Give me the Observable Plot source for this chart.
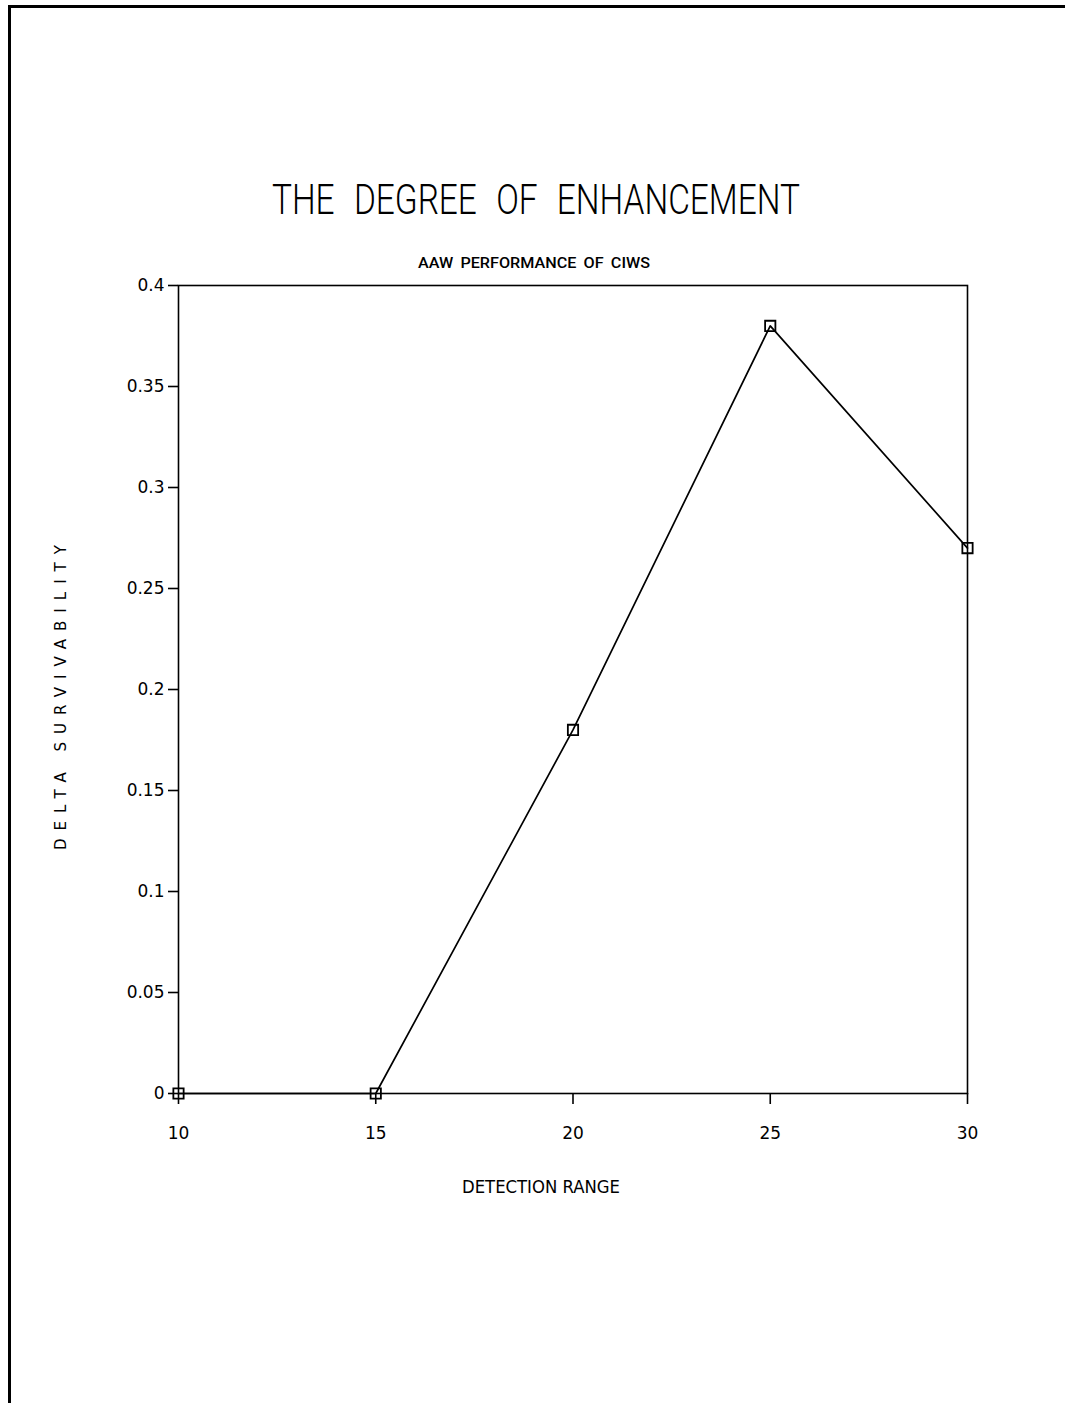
<!DOCTYPE html>
<html>
<head>
<meta charset="utf-8">
<script src="https://cdn.jsdelivr.net/npm/d3@7"></script>
<script src="https://cdn.jsdelivr.net/npm/@observablehq/plot@0.6"></script>
<style>
  html, body { margin: 0; padding: 0; background: #fff; }
  #page { position: relative; width: 1065px; height: 1403px; overflow: hidden; background: #fff; font-family: Roboto, "DejaVu Sans", sans-serif; }
  .bl { position: absolute; left: 8px; top: 5px; width: 3px; height: 1398px; background: #000; z-index: 5; }
  .bt { position: absolute; left: 8px; top: 5px; width: 1057px; height: 3px; background: #000; z-index: 5; }
  .ttl { position: absolute; white-space: nowrap; transform-origin: 0 0; line-height: 1; color: #000; z-index: 5; }
  #chart { position: absolute; left: 0; top: 240px; z-index: 1; }
</style>
</head>
<body>
<div id="page">
  <div id="chart"></div>
  <div class="bl"></div>
  <div class="bt"></div>
  <div id="title" class="ttl" style="font-size:42px; font-weight:300; word-spacing:14px;"></div>
  <div id="subtitle" class="ttl" style="font-size:15px; font-weight:500; word-spacing:3px;"></div>
</div>
<script>
const detectionRange = [10, 15, 20, 25, 30];
const deltaSurvivability = [0, 0, 0.18, 0.38, 0.27];
const xTicks = [10, 15, 20, 25, 30];
const yTicks = [0, 0.05, 0.1, 0.15, 0.2, 0.25, 0.3, 0.35, 0.4];
const yTickLabels = ["0", "0.05", "0.1", "0.15", "0.2", "0.25", "0.3", "0.35", "0.4"];
const titleText = "THE DEGREE OF ENHANCEMENT";
const subtitleText = "AAW PERFORMANCE OF CIWS";
const xLabel = "DETECTION RANGE";
const yLabel = "DELTA SURVIVABILITY";

const data = detectionRange.map((x, i) => ({x, y: deltaSurvivability[i]}));

function fitBox(el, left, top, w) {
  el.style.left = "0px"; el.style.top = "0px"; el.style.transform = "none";
  const r = el.getBoundingClientRect();
  const sx = w / r.width;
  el.style.transform = `translate(${left}px, ${top}px) scale(${sx}, 1)`;
}

const title = document.getElementById("title");
title.textContent = titleText;
const subtitle = document.getElementById("subtitle");
subtitle.textContent = subtitleText;

const chart = Plot.plot({
  width: 1065,
  height: 1163,
  marginTop: 45,
  marginBottom: 310,
  marginLeft: 178,
  marginRight: 98,
  style: {fontFamily: "'DejaVu Sans', sans-serif", fontSize: "16px", color: "#000", background: "transparent", overflow: "visible"},
  x: {domain: [10, 30]},
  y: {domain: [0, 0.4]},
  marks: [
    Plot.frame({stroke: "#000", strokeWidth: 1.6}),
    Plot.axisY({ticks: yTicks, tickSize: 10, tickPadding: 4, strokeWidth: 1.6,
      tickFormat: d => yTickLabels[yTicks.findIndex(t => Math.abs(t - d) < 1e-9)],
      label: yLabel, labelAnchor: "center", labelOffset: 123, fontSize: 17}),
    Plot.axisX({ticks: xTicks, tickSize: 11, tickPadding: 22, strokeWidth: 1.6,
      tickFormat: d => String(d),
      label: xLabel, labelAnchor: "center", labelOffset: 99, fontSize: 17}),
    Plot.line(data, {x: "x", y: "y", stroke: "#000", strokeWidth: 1.7}),
    Plot.dot(data, {x: "x", y: "y", symbol: "square", r: 5.8, stroke: "#000", strokeWidth: 1.8, fill: "none"})
  ]
});
document.getElementById("chart").appendChild(chart);

// style axis labels (remove arrows, fit length, place as in the original)
const svg = d3.select(chart);
svg.selectAll('[aria-label="y-axis label"] text')
  .text(yLabel)
  .attr("font-size", 15).attr("dx", -8)
  .attr("textLength", 305).attr("lengthAdjust", "spacing");
svg.selectAll('[aria-label="x-axis label"] text')
  .text(xLabel)
  .attr("font-size", 18).attr("dx", -32)
  .attr("textLength", 158).attr("lengthAdjust", "spacingAndGlyphs");

fitBox(title, 272, 179, 528);
fitBox(subtitle, 418, 256, 232);
</script>
</body>
</html>
